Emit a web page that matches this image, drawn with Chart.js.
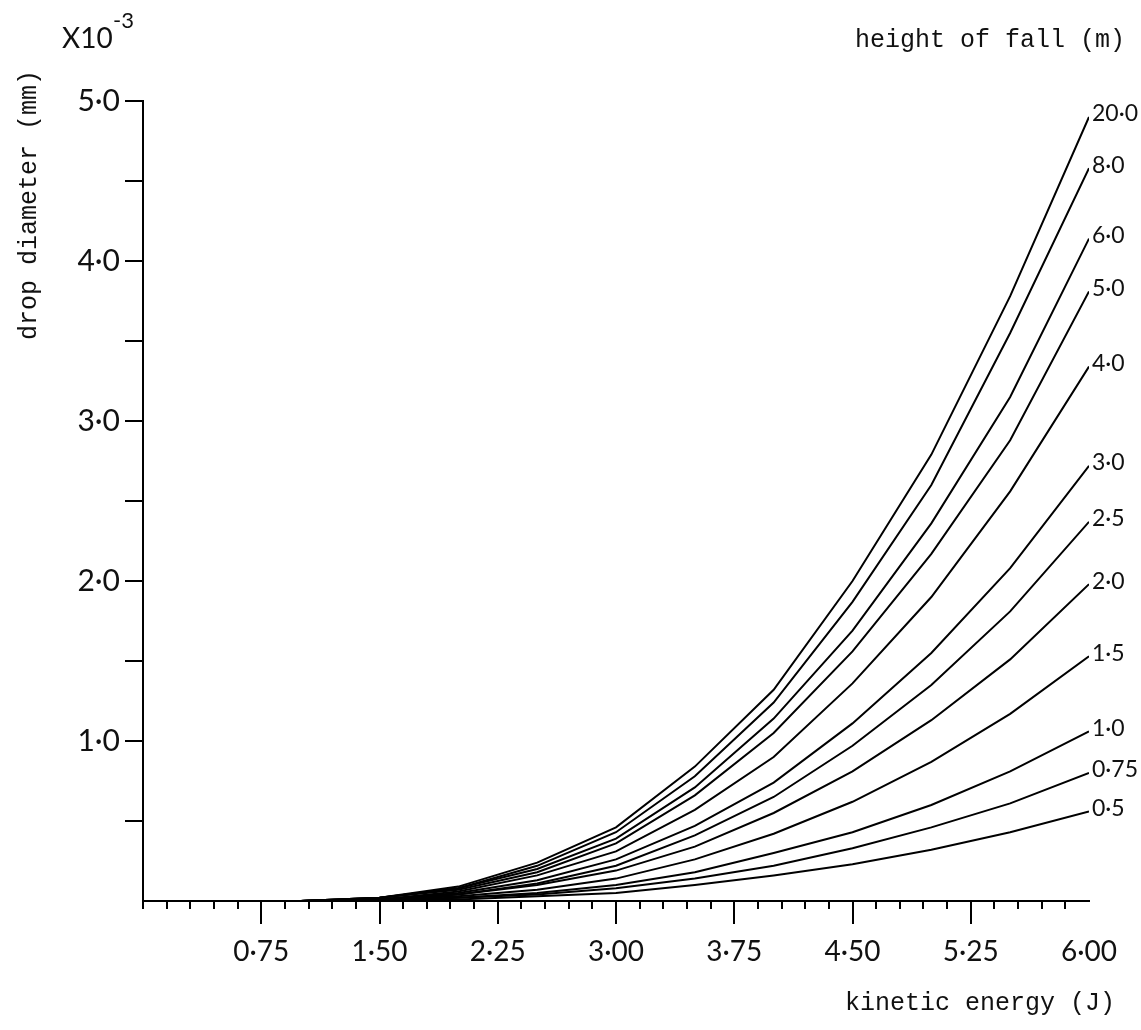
<!DOCTYPE html>
<html>
<head>
<meta charset="utf-8">
<script src="https://cdn.jsdelivr.net/npm/chart.js@4.4.1/dist/chart.umd.min.js"></script>
<style>
  html, body { margin: 0; padding: 0; background: #fff; }
  #wrap { width: 1141px; height: 1030px; position: relative; }
</style>
</head>
<body>
<div id="wrap"><canvas id="myChart"></canvas></div>
<script>
// kinetic energy (J) at which each curve was sampled
const energy = [1.0, 1.5, 2.0, 2.5, 3.0, 3.5, 4.0, 4.5, 5.0, 5.5, 6.0]

// drop diameter (x10^-3 mm) for each height of fall
const fall20  = [0, 0.02, 0.09, 0.24, 0.46, 0.84, 1.32, 2.00, 2.79, 3.78, 4.90]
const fall8   = [0, 0.02, 0.08, 0.22, 0.43, 0.78, 1.24, 1.87, 2.60, 3.55, 4.58]
const fall6   = [0, 0.02, 0.08, 0.20, 0.39, 0.71, 1.14, 1.69, 2.36, 3.15, 4.14]
const fall5   = [0, 0.02, 0.07, 0.18, 0.36, 0.66, 1.05, 1.56, 2.17, 2.88, 3.81]
const fall4   = [0, 0.01, 0.06, 0.16, 0.31, 0.57, 0.90, 1.36, 1.90, 2.56, 3.34]
const fall3   = [0, 0.01, 0.05, 0.13, 0.26, 0.47, 0.74, 1.11, 1.55, 2.08, 2.72]
const fall2_5 = [0, 0.01, 0.04, 0.11, 0.22, 0.41, 0.65, 0.97, 1.35, 1.81, 2.37]
const fall2   = [0, 0.01, 0.04, 0.10, 0.19, 0.34, 0.55, 0.81, 1.13, 1.51, 1.98]
const fall1_5 = [0, 0.01, 0.03, 0.07, 0.14, 0.26, 0.42, 0.62, 0.87, 1.17, 1.53]
const fall1   = [0, 0.01, 0.02, 0.05, 0.10, 0.18, 0.30, 0.43, 0.60, 0.81, 1.06]
const fall075 = [0, 0.00, 0.02, 0.04, 0.08, 0.14, 0.22, 0.33, 0.46, 0.61, 0.80]
const fall05  = [0, 0.00, 0.01, 0.03, 0.05, 0.10, 0.16, 0.23, 0.32, 0.43, 0.56]

const heights = ['20·0', '8·0', '6·0', '5·0', '4·0', '3·0', '2·5', '2·0', '1·5', '1·0', '0·75', '0·5']
const series = [fall20, fall8, fall6, fall5, fall4, fall3, fall2_5, fall2, fall1_5, fall1, fall075, fall05]

const xTickLabels = [0.75, 1.50, 2.25, 3.00, 3.75, 4.50, 5.25, 6.00]
const yTickLabels = [1.0, 2.0, 3.0, 4.0, 5.0]

const numFont = 'Lato'
const typeFont = '"Liberation Mono", monospace'

function dot(v, n){
  return v.toFixed(n).replace('.', '·')
}

// tick marks, curve labels and the typed captions
const extras = {
  id: 'extras',
  afterDraw(chart){
    const ctx = chart.ctx
    const xs = chart.scales.x
    const ys = chart.scales.y
    const area = chart.chartArea
    ctx.save()
    ctx.strokeStyle = '#000'
    ctx.lineWidth = 2
    ctx.lineCap = 'butt'

    // x ticks every 0.15, long ones on the labelled values
    for(let i = 0; i < 40; i++){
      const px = Math.round(xs.getPixelForValue(i * 0.15)) 
      const len = (i > 0 && i % 5 === 0) ? 23 : 8
      ctx.beginPath()
      ctx.moveTo(px, area.bottom)
      ctx.lineTo(px, area.bottom + len)
      ctx.stroke()
    }
    // y ticks every 0.5
    for(let i = 1; i <= 10; i++){
      const py = Math.round(ys.getPixelForValue(i * 0.5))
      ctx.beginPath()
      ctx.moveTo(area.left - 18, py)
      ctx.lineTo(area.left, py)
      ctx.stroke()
    }

    // height label at the end of each curve
    ctx.fillStyle = '#111'
    ctx.font = '23px ' + numFont
    ctx.textAlign = 'left'
    ctx.textBaseline = 'middle'
    chart.data.datasets.forEach((ds, i) => {
      const pts = chart.getDatasetMeta(i).data
      const last = pts[pts.length - 1]
      ctx.fillText(ds.label, last.x + 3, last.y - 3)
    })

    // scale factor
    ctx.textBaseline = 'alphabetic'
    ctx.font = '28px ' + numFont
    ctx.fillText('X10', 62, 48)
    ctx.font = '22px ' + numFont
    ctx.fillText('-3', 113, 28)

    // axis captions
    ctx.font = '25px ' + typeFont
    ctx.fillText('height of fall (m)', 855, 47)
    ctx.fillText('kinetic energy (J)', 845, 1010)
    ctx.translate(36, 340)
    ctx.rotate(-Math.PI / 2)
    ctx.fillText('drop diameter (mm)', 0, 0)
    ctx.restore()
  }
}

const data = {
  datasets: series.map((vals, i) => ({
    label: heights[i],
    data: vals.map((v, j) => ({ x: energy[j], y: v })),
    borderColor: '#000',
    borderWidth: 2,
    pointRadius: 0,
    tension: 0,
    fill: false
  }))
}

const config = {
  type: 'line',
  data: data,
  plugins: [extras],
  options: {
    responsive: true,
    maintainAspectRatio: false,
    animation: false,
    layout: { padding: { left: 0, top: 101, right: 52, bottom: 0 } },
    plugins: { legend: { display: false }, tooltip: { enabled: false } },
    scales: {
      x: {
        type: 'linear',
        min: 0,
        max: 6,
        afterFit(s){
          s.height = 129
          s.paddingLeft = 0
          s.paddingRight = 0
        },
        afterBuildTicks(s){ s.ticks = xTickLabels.map(v => ({ value: v })) },
        grid: { display: false, drawTicks: false },
        border: { display: true, color: '#000', width: 2 },
        ticks: {
          padding: 34,
          color: '#111',
          maxRotation: 0,
          autoSkip: false,
          font: { family: numFont, size: 28 },
          callback: v => dot(v, 2)
        }
      },
      y: {
        min: 0,
        max: 5,
        afterFit(s){
          s.width = 143
          s.paddingTop = 0
          s.paddingBottom = 0
        },
        afterBuildTicks(s){ s.ticks = yTickLabels.map(v => ({ value: v })) },
        grid: { display: false, drawTicks: false },
        border: { display: true, color: '#000', width: 2 },
        ticks: {
          padding: 23,
          color: '#111',
          autoSkip: false,
          font: { family: numFont, size: 30 },
          callback: v => dot(v, 1)
        }
      }
    }
  }
}

const myChart = new Chart(document.getElementById('myChart'), config)
</script>
</body>
</html>
